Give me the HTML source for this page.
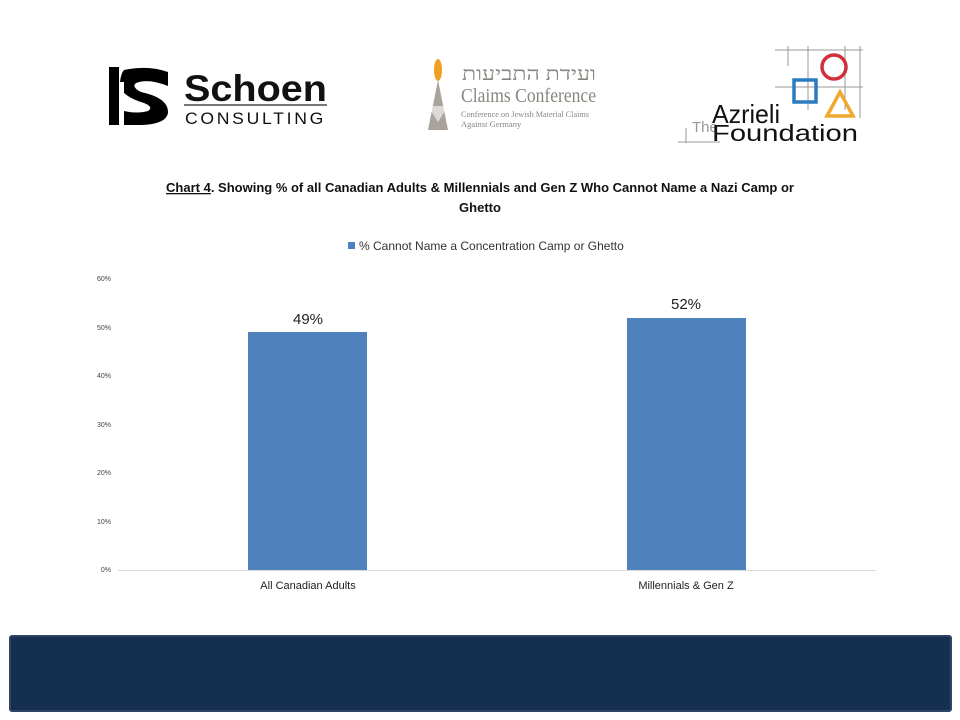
<!DOCTYPE html>
<html><head><meta charset="utf-8"><style>
body{margin:0;width:960px;height:720px;background:#fff;position:relative;overflow:hidden;font-family:"Liberation Sans",sans-serif}
.a{position:absolute}
</style></head><body>
<svg class="a" style="left:0;top:0" width="960" height="720" xmlns="http://www.w3.org/2000/svg">
<!-- Schoen logo -->
<path d="M109 67 h10 v58 h-10z" fill="#000"/>
<path d="M124 70 q24 -5 44 2 v14 q-20 -8 -32 -3 q-5 4 5 9 q28 6 27 21 q-2 11 -26 12 l-18 0 v-14 q14 3 24 0 q6 -4 -4 -8 q-26 -8 -24 -21 q1 -9 4 -12z" fill="#000"/>
<rect x="119" y="82" width="5" height="24" fill="#fff"/>
<text x="184" y="101" font-family="Liberation Sans" font-weight="bold" font-size="37" fill="#111" textLength="143" lengthAdjust="spacingAndGlyphs">Schoen</text>
<rect x="184" y="104" width="143" height="2" fill="#777"/>
<text x="185" y="124" font-family="Liberation Sans" font-size="17" letter-spacing="2.6" fill="#111" textLength="141" lengthAdjust="spacingAndGlyphs">CONSULTING</text>
<!-- Claims Conference -->
<ellipse cx="438" cy="70" rx="4" ry="11" fill="#f0a020"/>
<path d="M438 80 L428 130 L448 130Z" fill="#a9a39c"/>
<path d="M428 106 L448 106 L438 122Z" fill="#fff" opacity="0.6"/>
<text x="596" y="80" text-anchor="end" font-family="Liberation Serif" font-size="19" fill="#8a847e" textLength="134" lengthAdjust="spacingAndGlyphs">ועידת התביעות</text>
<text x="461" y="102" font-family="Liberation Serif" font-size="20" fill="#8a847e" textLength="135" lengthAdjust="spacingAndGlyphs">Claims Conference</text>
<text x="461" y="117" font-family="Liberation Serif" font-size="8.5" fill="#8a847e" textLength="128" lengthAdjust="spacingAndGlyphs">Conference on Jewish Material Claims</text>
<text x="461" y="127" font-family="Liberation Serif" font-size="8.5" fill="#8a847e">Against Germany</text>
<!-- Azrieli -->
<g stroke="#999" stroke-width="1" fill="none">
<line x1="775" y1="50" x2="863" y2="50"/><line x1="775" y1="87" x2="863" y2="87"/>
<line x1="808" y1="46" x2="808" y2="110"/><line x1="845" y1="46" x2="845" y2="110"/>
<line x1="860" y1="46" x2="860" y2="118"/><line x1="788" y1="46" x2="788" y2="66"/>
<line x1="686" y1="128" x2="686" y2="143"/><line x1="678" y1="142" x2="720" y2="142"/>
</g>
<circle cx="834" cy="67" r="12" fill="none" stroke="#d0303c" stroke-width="3.5"/>
<rect x="794" y="80" width="22" height="22" fill="none" stroke="#2a7bbf" stroke-width="3.5"/>
<path d="M840 92 L853 116 L827 116Z" fill="none" stroke="#f0a830" stroke-width="3.5"/>
<text x="692" y="132" font-family="Liberation Sans" font-size="15" fill="#999">The</text>
<text x="712" y="123" font-family="Liberation Sans" font-size="26" fill="#111" textLength="68" lengthAdjust="spacingAndGlyphs">Azrieli</text>
<text x="712" y="141" font-family="Liberation Sans" font-size="23" fill="#111" textLength="146" lengthAdjust="spacingAndGlyphs">Foundation</text>
<!-- title -->
<text x="480" y="192" text-anchor="middle" font-family="Liberation Sans" font-weight="bold" font-size="13" fill="#111"><tspan text-decoration="underline">Chart 4</tspan>. Showing % of all Canadian Adults &amp; Millennials and Gen Z Who Cannot Name a Nazi Camp or</text>
<text x="480" y="212" text-anchor="middle" font-family="Liberation Sans" font-weight="bold" font-size="13" fill="#111">Ghetto</text>
<!-- legend -->
<rect x="348" y="242" width="7" height="7" fill="#4f81bd"/>
<text x="359" y="250" font-family="Liberation Sans" font-size="12" fill="#333">% Cannot Name a Concentration Camp or Ghetto</text>
<!-- axis -->
<g font-family="Liberation Sans" font-size="7" fill="#444" text-anchor="end">
<text x="111" y="572">0%</text><text x="111" y="524">10%</text><text x="111" y="475">20%</text>
<text x="111" y="427">30%</text><text x="111" y="378">40%</text><text x="111" y="330">50%</text><text x="111" y="281">60%</text>
</g>
<line x1="118" y1="570.5" x2="876" y2="570.5" stroke="#d9d9d9" stroke-width="1"/>
<rect x="248" y="332" width="119" height="238" fill="#4f81bd"/>
<rect x="627" y="318" width="119" height="252" fill="#4f81bd"/>
<text x="308" y="324" text-anchor="middle" font-family="Liberation Sans" font-size="15" fill="#222">49%</text>
<text x="686" y="309" text-anchor="middle" font-family="Liberation Sans" font-size="15" fill="#222">52%</text>
<text x="308" y="589" text-anchor="middle" font-family="Liberation Sans" font-size="11" fill="#222">All Canadian Adults</text>
<text x="686" y="589" text-anchor="middle" font-family="Liberation Sans" font-size="11" fill="#222">Millennials &amp; Gen Z</text>
<!-- footer -->
<rect x="10" y="636" width="941" height="75" rx="2" fill="#15304f" stroke="#2c4466" stroke-width="2"/>
</svg>
</body></html>
